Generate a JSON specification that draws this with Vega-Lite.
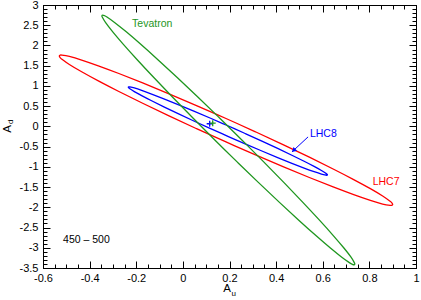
{
  "$schema": "https://vega.github.io/schema/vega-lite/v6.json",
  "width": 373,
  "height": 263,
  "autosize": "none",
  "padding": {"left": 43, "top": 5, "right": 5, "bottom": 32},
  "background": "white",
  "config": {
    "view": {"stroke": "black", "strokeWidth": 1},
    "font": "Liberation Sans",
    "axis": {
      "grid": false,
      "domainColor": "black",
      "domainWidth": 1,
      "tickColor": "black",
      "tickWidth": 1,
      "labelColor": "black",
      "labelFont": "Liberation Sans",
      "labelFontSize": 11,
      "labelFlush": false,
      "labelOverlap": false,
      "labelBound": false,
      "title": null
    }
  },
  "datasets": {
    "ellipses": [
      {"s":"LHC7","t":0,"x":0.9,"y":-1.93},
      {"s":"LHC7","t":5,"x":0.8973,"y":-1.8977},
      {"s":"LHC7","t":10,"x":0.8891,"y":-1.8518},
      {"s":"LHC7","t":20,"x":0.8569,"y":-1.7201},
      {"s":"LHC7","t":30,"x":0.8042,"y":-1.5391},
      {"s":"LHC7","t":40,"x":0.7327,"y":-1.3142},
      {"s":"LHC7","t":50,"x":0.6446,"y":-1.0524},
      {"s":"LHC7","t":60,"x":0.5425,"y":-0.7614},
      {"s":"LHC7","t":70,"x":0.4295,"y":-0.4501},
      {"s":"LHC7","t":80,"x":0.3091,"y":-0.128},
      {"s":"LHC7","t":90,"x":0.185,"y":0.195},
      {"s":"LHC7","t":100,"x":0.0609,"y":0.5092},
      {"s":"LHC7","t":110,"x":-0.0595,"y":0.8051},
      {"s":"LHC7","t":120,"x":-0.1725,"y":1.0736},
      {"s":"LHC7","t":130,"x":-0.2746,"y":1.3066},
      {"s":"LHC7","t":140,"x":-0.3627,"y":1.497},
      {"s":"LHC7","t":150,"x":-0.4342,"y":1.6391},
      {"s":"LHC7","t":160,"x":-0.4869,"y":1.7285},
      {"s":"LHC7","t":170,"x":-0.5191,"y":1.7624},
      {"s":"LHC7","t":175,"x":-0.5273,"y":1.7583},
      {"s":"LHC7","t":180,"x":-0.53,"y":1.74},
      {"s":"LHC7","t":185,"x":-0.5273,"y":1.7077},
      {"s":"LHC7","t":190,"x":-0.5191,"y":1.6618},
      {"s":"LHC7","t":200,"x":-0.4869,"y":1.5301},
      {"s":"LHC7","t":210,"x":-0.4342,"y":1.3491},
      {"s":"LHC7","t":220,"x":-0.3627,"y":1.1242},
      {"s":"LHC7","t":230,"x":-0.2746,"y":0.8624},
      {"s":"LHC7","t":240,"x":-0.1725,"y":0.5714},
      {"s":"LHC7","t":250,"x":-0.0595,"y":0.2601},
      {"s":"LHC7","t":260,"x":0.0609,"y":-0.062},
      {"s":"LHC7","t":270,"x":0.185,"y":-0.385},
      {"s":"LHC7","t":280,"x":0.3091,"y":-0.6992},
      {"s":"LHC7","t":290,"x":0.4295,"y":-0.9951},
      {"s":"LHC7","t":300,"x":0.5425,"y":-1.2636},
      {"s":"LHC7","t":310,"x":0.6446,"y":-1.4966},
      {"s":"LHC7","t":320,"x":0.7327,"y":-1.687},
      {"s":"LHC7","t":330,"x":0.8042,"y":-1.8291},
      {"s":"LHC7","t":340,"x":0.8569,"y":-1.9185},
      {"s":"LHC7","t":350,"x":0.8891,"y":-1.9524},
      {"s":"LHC7","t":355,"x":0.8973,"y":-1.9483},
      {"s":"LHC8","t":0,"x":0.62,"y":-1.2},
      {"s":"LHC8","t":5,"x":0.6184,"y":-1.1846},
      {"s":"LHC8","t":10,"x":0.6135,"y":-1.1609},
      {"s":"LHC8","t":20,"x":0.5943,"y":-1.0901},
      {"s":"LHC8","t":30,"x":0.5628,"y":-0.9896},
      {"s":"LHC8","t":40,"x":0.5201,"y":-0.8625},
      {"s":"LHC8","t":50,"x":0.4675,"y":-0.7128},
      {"s":"LHC8","t":60,"x":0.4065,"y":-0.5449},
      {"s":"LHC8","t":70,"x":0.339,"y":-0.3639},
      {"s":"LHC8","t":80,"x":0.2671,"y":-0.1754},
      {"s":"LHC8","t":90,"x":0.193,"y":0.015},
      {"s":"LHC8","t":100,"x":0.1189,"y":0.2014},
      {"s":"LHC8","t":110,"x":0.047,"y":0.3783},
      {"s":"LHC8","t":120,"x":-0.0205,"y":0.5401},
      {"s":"LHC8","t":130,"x":-0.0815,"y":0.682},
      {"s":"LHC8","t":140,"x":-0.1341,"y":0.7997},
      {"s":"LHC8","t":150,"x":-0.1768,"y":0.8896},
      {"s":"LHC8","t":160,"x":-0.2083,"y":0.9491},
      {"s":"LHC8","t":170,"x":-0.2275,"y":0.9761},
      {"s":"LHC8","t":175,"x":-0.2324,"y":0.9772},
      {"s":"LHC8","t":180,"x":-0.234,"y":0.97},
      {"s":"LHC8","t":185,"x":-0.2324,"y":0.9546},
      {"s":"LHC8","t":190,"x":-0.2275,"y":0.9309},
      {"s":"LHC8","t":200,"x":-0.2083,"y":0.8601},
      {"s":"LHC8","t":210,"x":-0.1768,"y":0.7596},
      {"s":"LHC8","t":220,"x":-0.1341,"y":0.6325},
      {"s":"LHC8","t":230,"x":-0.0815,"y":0.4828},
      {"s":"LHC8","t":240,"x":-0.0205,"y":0.3149},
      {"s":"LHC8","t":250,"x":0.047,"y":0.1339},
      {"s":"LHC8","t":260,"x":0.1189,"y":-0.0546},
      {"s":"LHC8","t":270,"x":0.193,"y":-0.245},
      {"s":"LHC8","t":280,"x":0.2671,"y":-0.4314},
      {"s":"LHC8","t":290,"x":0.339,"y":-0.6083},
      {"s":"LHC8","t":300,"x":0.4065,"y":-0.7701},
      {"s":"LHC8","t":310,"x":0.4675,"y":-0.912},
      {"s":"LHC8","t":320,"x":0.5201,"y":-1.0297},
      {"s":"LHC8","t":330,"x":0.5628,"y":-1.1196},
      {"s":"LHC8","t":340,"x":0.5943,"y":-1.1791},
      {"s":"LHC8","t":350,"x":0.6135,"y":-1.2061},
      {"s":"LHC8","t":355,"x":0.6184,"y":-1.2072},
      {"s":"Tevatron","t":0,"x":0.734,"y":-3.42},
      {"s":"Tevatron","t":5,"x":0.7371,"y":-3.4083},
      {"s":"Tevatron","t":10,"x":0.7359,"y":-3.3731},
      {"s":"Tevatron","t":20,"x":0.7213,"y":-3.234},
      {"s":"Tevatron","t":30,"x":0.6908,"y":-3.0066},
      {"s":"Tevatron","t":40,"x":0.6452,"y":-2.6981},
      {"s":"Tevatron","t":50,"x":0.5859,"y":-2.318},
      {"s":"Tevatron","t":60,"x":0.5147,"y":-1.8775},
      {"s":"Tevatron","t":70,"x":0.4338,"y":-1.3901},
      {"s":"Tevatron","t":80,"x":0.3457,"y":-0.8706},
      {"s":"Tevatron","t":90,"x":0.253,"y":-0.335},
      {"s":"Tevatron","t":100,"x":0.1585,"y":0.2006},
      {"s":"Tevatron","t":110,"x":0.0652,"y":0.7201},
      {"s":"Tevatron","t":120,"x":-0.0243,"y":1.2075},
      {"s":"Tevatron","t":130,"x":-0.1071,"y":1.648},
      {"s":"Tevatron","t":140,"x":-0.1806,"y":2.0281},
      {"s":"Tevatron","t":150,"x":-0.2428,"y":2.3366},
      {"s":"Tevatron","t":160,"x":-0.2917,"y":2.564},
      {"s":"Tevatron","t":170,"x":-0.3257,"y":2.7031},
      {"s":"Tevatron","t":175,"x":-0.3369,"y":2.7383},
      {"s":"Tevatron","t":180,"x":-0.344,"y":2.75},
      {"s":"Tevatron","t":185,"x":-0.3471,"y":2.7383},
      {"s":"Tevatron","t":190,"x":-0.3459,"y":2.7031},
      {"s":"Tevatron","t":200,"x":-0.3313,"y":2.564},
      {"s":"Tevatron","t":210,"x":-0.3008,"y":2.3366},
      {"s":"Tevatron","t":220,"x":-0.2552,"y":2.0281},
      {"s":"Tevatron","t":230,"x":-0.1959,"y":1.648},
      {"s":"Tevatron","t":240,"x":-0.1247,"y":1.2075},
      {"s":"Tevatron","t":250,"x":-0.0438,"y":0.7201},
      {"s":"Tevatron","t":260,"x":0.0443,"y":0.2006},
      {"s":"Tevatron","t":270,"x":0.137,"y":-0.335},
      {"s":"Tevatron","t":280,"x":0.2315,"y":-0.8706},
      {"s":"Tevatron","t":290,"x":0.3248,"y":-1.3901},
      {"s":"Tevatron","t":300,"x":0.4143,"y":-1.8775},
      {"s":"Tevatron","t":310,"x":0.4971,"y":-2.318},
      {"s":"Tevatron","t":320,"x":0.5706,"y":-2.6981},
      {"s":"Tevatron","t":330,"x":0.6328,"y":-3.0066},
      {"s":"Tevatron","t":340,"x":0.6817,"y":-3.234},
      {"s":"Tevatron","t":350,"x":0.7157,"y":-3.3731},
      {"s":"Tevatron","t":355,"x":0.7269,"y":-3.4083}
    ]
  },
  "layer": [
    {
      "data": {"name": "ellipses"},
      "mark": {"type": "line", "interpolate": "cardinal-closed", "strokeWidth": 1.3},
      "encoding": {
        "x": {"field": "x", "type": "quantitative",
              "scale": {"domain": [-0.6, 1], "nice": false, "zero": false},
              "axis": {"orient": "bottom", "values": [-0.6, -0.4, -0.2, 0, 0.2, 0.4, 0.6, 0.8, 1],
                       "labelExpr": "datum.value + ''", "tickSize": -7, "labelPadding": 11}},
        "y": {"field": "y", "type": "quantitative",
              "scale": {"domain": [-3.5, 3], "nice": false, "zero": false},
              "axis": {"orient": "left", "values": [-3.5, -3, -2.5, -2, -1.5, -1, -0.5, 0, 0.5, 1, 1.5, 2, 2.5, 3],
                       "labelExpr": "datum.value + ''", "tickSize": -7, "labelPadding": 12}},
        "color": {"field": "s", "type": "nominal",
                  "scale": {"domain": ["LHC7", "LHC8", "Tevatron", "note"], "range": ["#ff0000", "#0000ff", "#1e961e", "#000000"]},
                  "legend": null},
        "order": {"field": "t", "type": "quantitative"}
      }
    },
    {
      "data": {"values": [
        {"s": "LHC8", "x": 0.115, "y": 0.065},
        {"s": "Tevatron", "x": 0.128, "y": 0.08}
      ]},
      "mark": {"type": "point", "shape": "M-1,0L1,0M0,-1L0,1", "size": 36, "filled": false, "strokeWidth": 1.3, "opacity": 1},
      "encoding": {
        "x": {"field": "x", "type": "quantitative",
              "axis": {"orient": "top", "values": [-0.6, -0.4, -0.2, 0, 0.2, 0.4, 0.6, 0.8, 1], "labels": false, "tickSize": -7}},
        "y": {"field": "y", "type": "quantitative",
              "axis": {"orient": "right", "values": [-3.5, -3, -2.5, -2, -1.5, -1, -0.5, 0, 0.5, 1, 1.5, 2, 2.5, 3], "labels": false, "tickSize": -7}},
        "color": {"field": "s", "type": "nominal", "legend": null}
      }
    },
    {
      "data": {"values": [
        {"s": "Tevatron", "label": "Tevatron", "x": -0.218, "y": 2.53},
        {"s": "LHC8", "label": "LHC8", "x": 0.545, "y": -0.19},
        {"s": "LHC7", "label": "LHC7", "x": 0.814, "y": -1.37},
        {"s": "note", "label": "450 – 500", "x": -0.514, "y": -2.81}
      ]},
      "mark": {"type": "text", "align": "left", "baseline": "middle", "fontSize": 10.5, "font": "Liberation Sans"},
      "encoding": {
        "x": {"field": "x", "type": "quantitative",
              "axis": {"orient": "bottom", "values": [-0.55, -0.5, -0.45, -0.35, -0.3, -0.25, -0.15, -0.1, -0.05, 0.05, 0.1, 0.15, 0.25, 0.3, 0.35, 0.45, 0.5, 0.55, 0.65, 0.7, 0.75, 0.85, 0.9, 0.95],
                       "labels": false, "domain": false, "tickSize": -4}},
        "y": {"field": "y", "type": "quantitative",
              "axis": {"orient": "left", "values": [-3.4, -3.3, -3.2, -3.1, -2.9, -2.8, -2.7, -2.6, -2.4, -2.3, -2.2, -2.1, -1.9, -1.8, -1.7, -1.6, -1.4, -1.3, -1.2, -1.1, -0.9, -0.8, -0.7, -0.6, -0.4, -0.3, -0.2, -0.1, 0.1, 0.2, 0.3, 0.4, 0.6, 0.7, 0.8, 0.9, 1.1, 1.2, 1.3, 1.4, 1.6, 1.7, 1.8, 1.9, 2.1, 2.2, 2.3, 2.4, 2.6, 2.7, 2.8, 2.9],
                       "labels": false, "domain": false, "tickSize": -4}},
        "text": {"field": "label"},
        "color": {"field": "s", "type": "nominal", "legend": null}
      }
    },
    {
      "data": {"values": [{"x": 0.537, "y": -0.26, "x2": 0.468, "y2": -0.63}]},
      "mark": {"type": "rule", "color": "#0000ff", "strokeWidth": 1},
      "encoding": {
        "x": {"field": "x", "type": "quantitative",
              "axis": {"orient": "top", "values": [-0.55, -0.5, -0.45, -0.35, -0.3, -0.25, -0.15, -0.1, -0.05, 0.05, 0.1, 0.15, 0.25, 0.3, 0.35, 0.45, 0.5, 0.55, 0.65, 0.7, 0.75, 0.85, 0.9, 0.95],
                       "labels": false, "domain": false, "tickSize": -4}},
        "y": {"field": "y", "type": "quantitative",
              "axis": {"orient": "right", "values": [-3.4, -3.3, -3.2, -3.1, -2.9, -2.8, -2.7, -2.6, -2.4, -2.3, -2.2, -2.1, -1.9, -1.8, -1.7, -1.6, -1.4, -1.3, -1.2, -1.1, -0.9, -0.8, -0.7, -0.6, -0.4, -0.3, -0.2, -0.1, 0.1, 0.2, 0.3, 0.4, 0.6, 0.7, 0.8, 0.9, 1.1, 1.2, 1.3, 1.4, 1.6, 1.7, 1.8, 1.9, 2.1, 2.2, 2.3, 2.4, 2.6, 2.7, 2.8, 2.9],
                       "labels": false, "domain": false, "tickSize": -4}},
        "x2": {"field": "x2"},
        "y2": {"field": "y2"}
      }
    },
    {
      "data": {"values": [{"x": 0.475, "y": -0.595}]},
      "mark": {"type": "point", "shape": "triangle-up", "size": 28, "filled": true, "color": "#0000ff", "angle": 227, "opacity": 1},
      "encoding": {
        "x": {"field": "x", "type": "quantitative", "axis": null},
        "y": {"field": "y", "type": "quantitative", "axis": null}
      }
    },
    {
      "data": {"values": [{"x": 0.19, "y": -3.5, "label": "A"}]},
      "mark": {"type": "text", "align": "center", "baseline": "middle", "fontSize": 11.5, "dy": 21, "clip": false, "color": "black"},
      "encoding": {
        "x": {"field": "x", "type": "quantitative", "axis": null},
        "y": {"field": "y", "type": "quantitative", "axis": null},
        "text": {"field": "label"}
      }
    },
    {
      "data": {"values": [{"x": 0.19, "y": -3.5, "label": "u"}]},
      "mark": {"type": "text", "align": "center", "baseline": "middle", "fontSize": 8, "dx": 6.5, "dy": 26, "clip": false, "color": "black"},
      "encoding": {
        "x": {"field": "x", "type": "quantitative", "axis": null},
        "y": {"field": "y", "type": "quantitative", "axis": null},
        "text": {"field": "label"}
      }
    },
    {
      "data": {"values": [{"x": -0.6, "y": -0.06, "label": "A"}]},
      "mark": {"type": "text", "align": "center", "baseline": "middle", "fontSize": 11.5, "angle": 270, "dy": -35.5, "clip": false, "color": "black"},
      "encoding": {
        "x": {"field": "x", "type": "quantitative", "axis": null},
        "y": {"field": "y", "type": "quantitative", "axis": null},
        "text": {"field": "label"}
      }
    },
    {
      "data": {"values": [{"x": -0.6, "y": -0.06, "label": "d"}]},
      "mark": {"type": "text", "align": "center", "baseline": "middle", "fontSize": 8, "angle": 270, "dx": 7, "dy": -32.5, "clip": false, "color": "black"},
      "encoding": {
        "x": {"field": "x", "type": "quantitative", "axis": null},
        "y": {"field": "y", "type": "quantitative", "axis": null},
        "text": {"field": "label"}
      }
    }
  ],
  "resolve": {"axis": {"x": "independent", "y": "independent"}}
}
